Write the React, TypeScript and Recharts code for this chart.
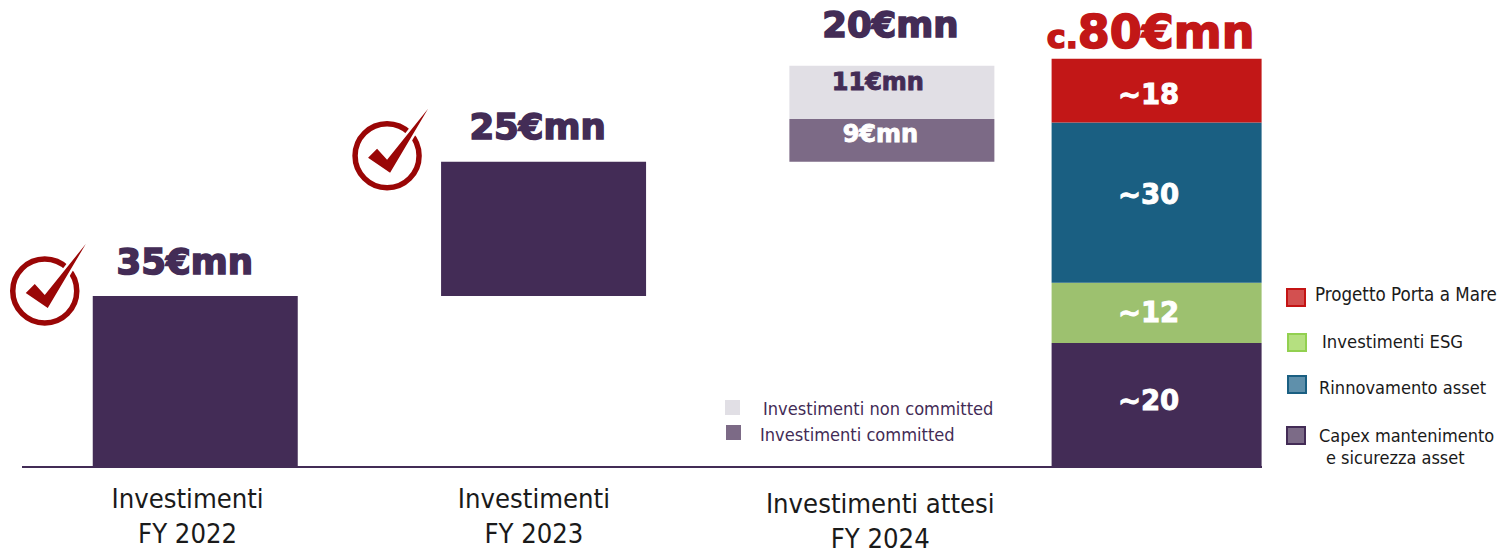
import React from "react";
import { BarChart, Bar, XAxis, YAxis, LabelList, Rectangle } from "recharts";

// The source graphic is not drawn to a strict scale, so the plotted heights are
// read from the picture (in €mn-like units); the printed labels are kept apart.
const slots = [1, 2, 3, 3.76];
const categories = [
  ["Investimenti", "FY 2022"],
  ["Investimenti", "FY 2023"],
  ["Investimenti attesi", "FY 2024"],
  ["", ""],
];
const base = [0, 33.5, 59.8, 0];
const invested = [33.5, 26.3, 0, 0];
const committed = [0, 0, 8.4, 0];
const nonCommitted = [0, 0, 10.4, 0];
const capex = [0, 0, 0, 24.3];
const esg = [0, 0, 0, 11.8];
const renewal = [0, 0, 0, 31.4];
const portaMare = [0, 0, 0, 12.5];

const investedLabels = ["35€mn", "25€mn", "", ""];
const committedLabels = ["", "", "9€mn", ""];
const nonCommittedLabels = ["", "", "11€mn", ""];
const capexLabels = ["", "", "", "~20"];
const esgLabels = ["", "", "", "~12"];
const renewalLabels = ["", "", "", "~30"];
const portaLabels = ["", "", "", "~18"];
const totalNonCommitted = ["", "", "20€mn", ""];
const totalPorta = ["", "", "", "80€mn"];
const totalPrefix = "c.";

const DARK = "#432c56";
const RED = "#c21717";
const COND = "'DejaVu Sans Condensed', 'DejaVu Sans', sans-serif";
const HEAVY = "'DejaVu Sans', sans-serif";

const rows = slots.map((slot, i) => ({
  slot,
  base: base[i],
  invested: invested[i],
  committed: committed[i],
  nonCommitted: nonCommitted[i],
  capex: capex[i],
  esg: esg[i],
  renewal: renewal[i],
  portaMare: portaMare[i],
  investedLabel: investedLabels[i],
  committedLabel: committedLabels[i],
  nonCommittedLabel: nonCommittedLabels[i],
  capexLabel: capexLabels[i],
  esgLabel: esgLabels[i],
  renewalLabel: renewalLabels[i],
  portaLabel: portaLabels[i],
  totalNC: totalNonCommitted[i],
  totalP: totalPorta[i],
}));

const box = (p: any) => {
  const v = p.viewBox || p;
  return { x: +v.x, y: +v.y, w: +v.width, h: +v.height };
};

const Inner = (fill: string, size: number, dx: number, dy = 0) => (p: any) => {
  if (!p.value) return null;
  const b = box(p);
  return (
    <text
      x={b.x + b.w / 2 + dx}
      y={b.y + b.h / 2 + dy}
      textAnchor="middle"
      dominantBaseline="central"
      fontFamily={HEAVY}
      fontWeight={700}
      fontSize={size}
      fill={fill}
      stroke={fill}
      strokeWidth={0.9}
    >
      {p.value}
    </text>
  );
};

const Check = ({ cx, cy }: { cx: number; cy: number }) => (
  <g transform={`translate(${cx} ${cy})`}>
    <circle r={32} fill="none" stroke="#9a0606" strokeWidth={5.5} />
    <polygon
      points="-19,2 -10,-7 0,4 41,-47 3,17"
      fill="#9a0606"
      stroke="#fff"
      strokeWidth={5}
      paintOrder="stroke"
      strokeLinejoin="round"
    />
  </g>
);

const InvestedTop = (p: any) => {
  if (!p.value) return null;
  const b = box(p);
  const first = p.index === 0;
  return (
    <g>
      <Check cx={b.x - (first ? 48 : 54)} cy={b.y - (first ? 5 : 6)} />
      <text
        x={b.x + b.w / 2 + (first ? -10.5 : -6)}
        y={b.y - (first ? 22 : 23)}
        textAnchor="middle"
        fontFamily={HEAVY}
        fontWeight={700}
        fontSize={35.5}
        fill={DARK}
        stroke={DARK}
        strokeWidth={1.6}
      >
        {p.value}
      </text>
    </g>
  );
};

const TotalNC = (p: any) => {
  if (!p.value) return null;
  const b = box(p);
  return (
    <text
      x={b.x + b.w / 2 - 1.5}
      y={b.y - 29}
      textAnchor="middle"
      fontFamily={HEAVY}
      fontWeight={700}
      fontSize={35.5}
      fill={DARK}
      stroke={DARK}
      strokeWidth={1.6}
    >
      {p.value}
    </text>
  );
};

const TotalP = (p: any) => {
  if (!p.value) return null;
  const b = box(p);
  return (
    <text
      x={b.x + b.w / 2 - 6}
      y={b.y - 11}
      textAnchor="middle"
      fontFamily={HEAVY}
      fontWeight={700}
      fill={RED}
      stroke={RED}
      strokeWidth={1.6}
    >
      <tspan fontSize={32}>{totalPrefix}</tspan>
      <tspan fontSize={46}>{p.value}</tspan>
    </text>
  );
};

const Wide = (p: any) => (
  <Rectangle {...p} x={p.x - 2.5} width={p.width + 5} stroke="none" />
);

const tickDx = [-7.5, -9.5, -11.5];
const tickDy = [0, 0, 5];
const AxisTick = (p: any) => {
  const i = slots.indexOf(p.payload.value);
  if (i < 0) return null;
  const [a, b] = categories[i];
  const x = p.x + (tickDx[i] ?? 0);
  const y = 508 + (tickDy[i] ?? 0);
  return (
    <text textAnchor="middle" fontFamily={COND} fontSize={27.2} fill="#1a1a1a">
      <tspan x={x} y={y}>{a}</tspan>
      <tspan x={x} y={y + 35}>{b}</tspan>
    </text>
  );
};

const mainLegend = [
  { text: ["Progetto Porta a Mare"], fill: "#d35050", border: "#c41414", sx: 1286, sy: 288, tx: [1315], ty: [294], size: 18.6 },
  { text: ["Investimenti ESG"], fill: "#b5e080", border: "#92d050", sx: 1287, sy: 333, tx: [1322], ty: [341], size: 18.3 },
  { text: ["Rinnovamento asset"], fill: "#5f90ab", border: "#1a5f82", sx: 1287, sy: 375, tx: [1319], ty: [387], size: 18.1 },
  { text: ["Capex mantenimento", "e sicurezza asset"], fill: "#7c6b87", border: DARK, sx: 1286, sy: 426, tx: [1319, 1326], ty: [435, 457], size: 18 },
];
const smallLegend = [
  { text: "Investimenti non committed", fill: "#e1dfe5", sx: 725, sy: 400, tx: 763, ty: 408 },
  { text: "Investimenti committed", fill: "#7c6a86", sx: 726, sy: 425, tx: 760, ty: 434 },
];

const LegendOverlay = () => (
  <svg width={1498} height={549} style={{ position: "absolute", left: 0, top: 0, pointerEvents: "none" }}>
    {mainLegend.map((l) => (
      <g key={l.text[0]}>
        <rect x={l.sx + 1} y={l.sy + 1} width={18} height={17} fill={l.fill} stroke={l.border} strokeWidth={2} />
        {l.text.map((t, j) => (
          <text key={t} x={l.tx[j]} y={l.ty[j]} dominantBaseline="central" fontFamily={COND} fontSize={l.size} fill="#1a1a1a">
            {t}
          </text>
        ))}
      </g>
    ))}
    {smallLegend.map((l) => (
      <g key={l.text}>
        <rect x={l.sx} y={l.sy} width={15} height={15} fill={l.fill} />
        <text x={l.tx} y={l.ty} dominantBaseline="central" fontFamily={COND} fontSize={18.1} fill={DARK}>
          {l.text}
        </text>
      </g>
    ))}
  </svg>
);

export default function App() {
  return (
    <div style={{ position: "absolute", left: 0, top: 0, width: 1498, height: 549, background: "#fff" }}>
      <BarChart
        width={1498}
        height={549}
        data={rows}
        barSize={205}
        margin={{ top: 0, right: 236, bottom: 0, left: 22 }}
      >
        <XAxis
          dataKey="slot"
          type="number"
          domain={[0.503, 4.063]}
          ticks={[1, 2, 3]}
          axisLine={{ stroke: DARK, strokeWidth: 2 }}
          tickLine={false}
          tick={<AxisTick />}
          height={82}
          interval={0}
          allowDataOverflow
        />
        <YAxis hide domain={[0, 91.5]} />
        <Bar dataKey="base" stackId="a" fill="transparent" isAnimationActive={false} />
        <Bar dataKey="invested" stackId="a" fill={DARK} isAnimationActive={false}>
          <LabelList dataKey="investedLabel" content={InvestedTop} />
        </Bar>
        <Bar dataKey="committed" stackId="a" fill="#7c6a86" isAnimationActive={false}>
          <LabelList dataKey="committedLabel" content={Inner("#fff", 24, -11.5, -6)} />
        </Bar>
        <Bar dataKey="nonCommitted" stackId="a" fill="#e1dfe5" isAnimationActive={false}>
          <LabelList dataKey="nonCommittedLabel" content={Inner(DARK, 24, -14, -10)} />
          <LabelList dataKey="totalNC" content={TotalNC} />
        </Bar>
        <Bar dataKey="capex" stackId="a" fill={DARK} shape={Wide} isAnimationActive={false}>
          <LabelList dataKey="capexLabel" content={Inner("#fff", 27.5, -8, -5)} />
        </Bar>
        <Bar dataKey="esg" stackId="a" fill="#9dc16f" shape={Wide} isAnimationActive={false}>
          <LabelList dataKey="esgLabel" content={Inner("#fff", 27.5, -8, -1)} />
        </Bar>
        <Bar dataKey="renewal" stackId="a" fill="#1a5f82" shape={Wide} isAnimationActive={false}>
          <LabelList dataKey="renewalLabel" content={Inner("#fff", 27.5, -8, -9)} />
        </Bar>
        <Bar dataKey="portaMare" stackId="a" fill={RED} shape={Wide} isAnimationActive={false}>
          <LabelList dataKey="portaLabel" content={Inner("#fff", 27.5, -8, 3)} />
          <LabelList dataKey="totalP" content={TotalP} />
        </Bar>
      </BarChart>
      <LegendOverlay />
    </div>
  );
}
